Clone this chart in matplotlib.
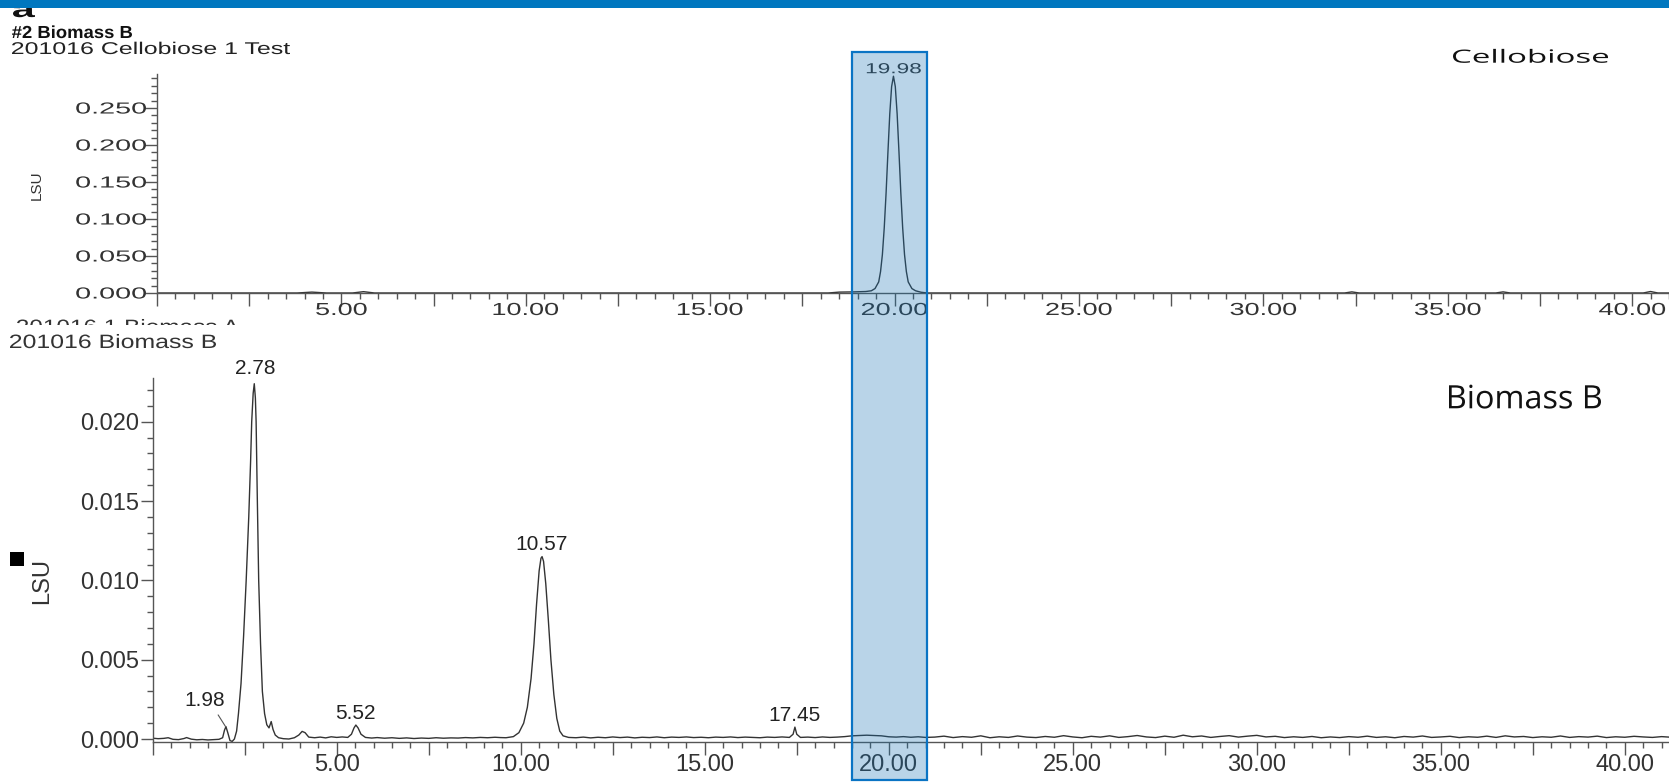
import numpy as np
import matplotlib
matplotlib.use("Agg")
import matplotlib.pyplot as plt
from matplotlib.ticker import MultipleLocator, FuncFormatter
from matplotlib.textpath import TextPath
from matplotlib.patches import PathPatch, Rectangle
from matplotlib.font_manager import FontProperties
from matplotlib.transforms import Affine2D, IdentityTransform, blended_transform_factory

W, H = 1669, 782

# Cellobiose standard trace (LSU)
top_time = [0.0, 3.8, 4.2, 4.6, 5.3, 5.6, 5.9, 18.2, 18.5, 18.9, 19.22, 19.37,
            19.47, 19.57, 19.62, 19.67, 19.72, 19.77, 19.82, 19.87, 19.92, 19.97,
            20.02, 20.07, 20.12, 20.17, 20.22, 20.27, 20.32, 20.37, 20.47, 20.57,
            20.72, 20.9, 32.2, 32.4, 32.6, 36.3, 36.5, 36.7, 40.3, 40.5, 40.7, 41.0]
top_signal = [0.0, 0.0, 0.0012, 0.0, 0.0, 0.0018, 0.0, 0.0, 0.0012, 0.0015, 0.002, 0.003,
              0.006, 0.015, 0.029, 0.052, 0.088, 0.135, 0.19, 0.242, 0.279, 0.293,
              0.279, 0.242, 0.19, 0.135, 0.088, 0.052, 0.029, 0.015, 0.006, 0.003,
              0.001, 0.0, 0.0, 0.0015, 0.0, 0.0, 0.0015, 0.0, 0.0, 0.002, 0.0, 0.0]
top_peaks = [19.98]

# Biomass B trace (in 0.001 LSU)
bot_time = [
    0.00, 0.15, 0.30, 0.42, 0.55, 0.70, 0.85, 0.92, 1.05, 1.20, 1.35, 1.50, 1.65, 1.80, 1.90,
    1.95, 1.99, 2.04, 2.10, 2.16,
    2.22, 2.28, 2.33, 2.40, 2.47, 2.54, 2.61, 2.66, 2.69, 2.73, 2.76, 2.79, 2.81, 2.84,
    2.88, 2.93, 2.98, 3.04, 3.10, 3.16, 3.22, 3.27, 3.33, 3.42,
    3.55, 3.70, 3.85, 3.97, 4.06, 4.14, 4.24, 4.40, 4.55, 4.70, 4.85, 5.00, 5.15, 5.30,
    5.40, 5.47, 5.52, 5.58, 5.66, 5.78, 5.95, 6.10, 6.30, 6.50, 6.70, 6.90, 7.10, 7.30,
    7.50, 7.70, 7.90, 8.10, 8.30, 8.50, 8.70, 8.90, 9.10, 9.30, 9.45,
    9.60, 9.80, 9.95, 10.08, 10.18, 10.28, 10.36, 10.43, 10.50, 10.55, 10.58, 10.62,
    10.68, 10.75, 10.82, 10.90, 10.98, 11.06, 11.15, 11.30,
    11.50, 11.70, 11.90, 12.10, 12.30, 12.50, 12.70, 12.90, 13.10, 13.30, 13.50, 13.70,
    13.90, 14.10, 14.30, 14.50, 14.70, 14.90, 15.10, 15.30, 15.50, 15.70, 15.90, 16.10,
    16.30, 16.50, 16.70, 16.90, 17.10, 17.30, 17.40, 17.45, 17.50, 17.60, 17.80, 18.00,
    18.20, 18.40, 18.60, 18.80, 19.00, 19.20, 19.40, 19.60, 19.80, 20.00, 20.20, 20.40,
    20.60, 20.80, 21.00, 21.25, 21.50, 21.75, 22.00, 22.25, 22.50, 22.75, 23.00, 23.25,
    23.50, 23.75, 24.00, 24.25, 24.50, 24.75, 25.00, 25.25, 25.50, 25.75, 26.00, 26.25,
    26.50, 26.75, 27.00, 27.25, 27.50, 27.75, 28.00, 28.25, 28.50, 28.75, 29.00, 29.25,
    29.50, 29.75, 30.00, 30.25, 30.50, 30.75, 31.00, 31.25, 31.50, 31.75, 32.00, 32.25,
    32.50, 32.75, 33.00, 33.25, 33.50, 33.75, 34.00, 34.25, 34.50, 34.75, 35.00, 35.25,
    35.50, 35.75, 36.00, 36.25, 36.50, 36.75, 37.00, 37.25, 37.50, 37.75, 38.00, 38.25,
    38.50, 38.75, 39.00, 39.25, 39.50, 39.75, 40.00, 40.25, 40.50, 40.75, 41.00, 41.20]
bot_signal = [
    0.05, 0.02, 0.04, 0.08, -0.02, -0.04, 0.03, 0.09, -0.01, -0.05, -0.03, -0.06, -0.04, -0.02, 0.08,
    0.55, 0.78, 0.40, -0.10, -0.15,
    0.00, 0.50, 1.60, 3.50, 6.50, 10.0, 14.0, 17.5, 20.0, 21.8, 22.4, 21.5, 20.0, 15.5,
    10.0, 6.0, 3.0, 1.6, 0.9, 0.7, 1.1, 0.6, 0.25, 0.08,
    0.02, 0.00, 0.08, 0.25, 0.48, 0.40, 0.12, 0.08, 0.12, 0.07, 0.14, 0.10, 0.13, 0.10,
    0.30, 0.70, 0.88, 0.70, 0.30, 0.10, 0.06, 0.09, 0.05, 0.08, 0.04, 0.07, 0.03, 0.06,
    0.04, 0.08, 0.05, 0.07, 0.06, 0.09, 0.07, 0.10, 0.08, 0.11, 0.09,
    0.08, 0.15, 0.40, 1.0, 2.0, 3.8, 6.0, 8.5, 10.6, 11.4, 11.5, 11.2,
    9.8, 7.5, 5.0, 2.8, 1.3, 0.5, 0.2, 0.10,
    0.08, 0.12, 0.07, 0.11, 0.08, 0.13, 0.09, 0.12, 0.07, 0.11, 0.09, 0.13,
    0.08, 0.12, 0.10, 0.13, 0.09, 0.11, 0.08, 0.12, 0.10, 0.13, 0.09, 0.12,
    0.10, 0.08, 0.12, 0.10, 0.13, 0.10, 0.30, 0.75, 0.30, 0.10, 0.12, 0.09,
    0.13, 0.10, 0.12, 0.15, 0.20, 0.22, 0.24, 0.22, 0.20, 0.14, 0.12, 0.15,
    0.11, 0.14, 0.10, 0.12, 0.18, 0.09, 0.15, 0.11, 0.20, 0.08, 0.14, 0.10,
    0.19, 0.12, 0.09, 0.16, 0.11, 0.21, 0.13, 0.08, 0.17, 0.12, 0.20, 0.10,
    0.15, 0.22, 0.13, 0.09, 0.18, 0.11, 0.24, 0.14, 0.19, 0.10, 0.16, 0.21,
    0.12, 0.18, 0.23, 0.13, 0.17, 0.09, 0.14, 0.10, 0.16, 0.08, 0.13, 0.09,
    0.15, 0.11, 0.18, 0.10, 0.14, 0.08, 0.16, 0.12, 0.19, 0.10, 0.13, 0.17,
    0.09, 0.14, 0.11, 0.18, 0.10, 0.20, 0.13, 0.16, 0.09, 0.14, 0.11, 0.19,
    0.10, 0.15, 0.12, 0.18, 0.09, 0.14, 0.11, 0.17, 0.13, 0.10, 0.15, 0.12]
bot_peaks = [1.98, 2.78, 5.52, 10.57, 17.45]

top_yticks = [0.0, 0.05, 0.10, 0.15, 0.20, 0.25]
top_xticks = [5, 10, 15, 20, 25, 30, 35, 40]

t_top = np.array(top_time)
s_top = np.array(top_signal)
t_bot = np.array(bot_time)
s_bot = np.array(bot_signal) * 1e-3

fig = plt.figure(figsize=(W / 100, H / 100), dpi=100)
fig.patch.set_facecolor("white")


def wide_text(s, x, base, cap, width=None, sx=1.0, ha="left", family="Liberation Sans",
              weight="normal", color="#333333", z=5):
    # text drawn as a path so it can be stretched like the scanned figure
    fp = FontProperties(family=family, weight=weight)
    tp = TextPath((0, 0), s, size=100, prop=fp)
    ref = TextPath((0, 0), "H", size=100, prop=fp).get_extents().height
    ext = tp.get_extents()
    sy = cap / ref
    kx = width / ext.width if width else sy * sx
    w = ext.width * kx
    x0 = x if ha == "left" else (x - w / 2 if ha == "center" else x - w)
    tr = Affine2D().translate(-ext.x0, 0).scale(kx, sy).translate(x0, H - base)
    fig.add_artist(PathPatch(tr.transform_path(tp), facecolor=color, edgecolor="none", lw=0,
                             transform=IdentityTransform(), zorder=z))


def px(ax, x, y):
    d = ax.transData.transform((x, y))
    return d[0], H - d[1]


line_col = "#333333"
spine_col = "#555555"

# ---- top panel (cellobiose) ----
ax1 = fig.add_axes([157 / W, (H - 293) / H, (W - 157) / W, 219 / H])
ax1.plot(t_top, s_top, color=line_col, lw=1.0)
ax1.set_xlim(0, 41.0)
ax1.set_ylim(0, 0.296)
ax1.yaxis.set_major_locator(MultipleLocator(0.05))
ax1.yaxis.set_minor_locator(MultipleLocator(0.01))
ax1.xaxis.set_major_locator(MultipleLocator(2.5))
ax1.xaxis.set_minor_locator(MultipleLocator(0.5))
ax1.tick_params(which="major", length=9, width=1, color=spine_col, labelleft=False, labelbottom=False)
ax1.tick_params(which="minor", length=4, width=1, color=spine_col)

# ---- bottom panel (biomass B) ----
ax2 = fig.add_axes([152.7 / W, (H - 741.7) / H, (W - 152.7) / W, 363.7 / H])
ax2.plot(t_bot, s_bot, color=line_col, lw=1.0)
ax2.set_xlim(0, 41.2)
ax2.set_ylim(-0.00017, 0.02276)
ax2.yaxis.set_major_locator(MultipleLocator(0.005))
ax2.yaxis.set_minor_locator(MultipleLocator(0.001))
ax2.xaxis.set_major_locator(MultipleLocator(2.5))
ax2.xaxis.set_minor_locator(MultipleLocator(0.5))
ax2.yaxis.set_major_formatter(FuncFormatter(lambda v, p: f"{v:.3f}" if v >= -1e-9 else ""))
ax2.xaxis.set_major_formatter(FuncFormatter(lambda v, p: f"{v:.2f}" if v > 0 and abs(v % 5) < 1e-6 else ""))
ax2.tick_params(which="major", length=9, width=1, color=spine_col, labelsize=17,
                labelcolor="#333333", pad=1)
ax2.tick_params(which="minor", length=4, width=1, color=spine_col)
ax2.tick_params(axis="x", pad=0)
for lbl in ax2.get_xticklabels() + ax2.get_yticklabels():
    lbl.set_family("Liberation Sans")

for ax in (ax1, ax2):
    ax.set_facecolor("none")
    ax.spines["top"].set_visible(False)
    ax.spines["right"].set_visible(False)
    for side in ("left", "bottom"):
        ax.spines[side].set_color(spine_col)
        ax.spines[side].set_linewidth(1.0)

# peak labels, bottom panel
for rt in bot_peaks:
    m = (t_bot > rt - 0.08) & (t_bot < rt + 0.08)
    ytop = s_bot[m].max()
    if rt < 2.5:
        ax2.annotate(f"{rt:.2f}", (rt, ytop), xytext=(-15, 15), textcoords="offset points",
                     ha="center", va="baseline", fontsize=15, color="#222222",
                     family="Liberation Sans",
                     arrowprops=dict(arrowstyle="-", color="#555555", lw=0.8,
                                     shrinkA=2, shrinkB=0,
                                     relpos=(0.75, 0.0)))
    else:
        off = 7 if rt < 3 else 4.5
        ax2.annotate(f"{rt:.2f}", (rt, ytop), xytext=(0, off), textcoords="offset points",
                     ha="center", va="baseline", fontsize=15, color="#222222",
                     family="Liberation Sans")

# top panel tick labels (stretched, as in the scan)
for v in top_yticks:
    x, y = px(ax1, 0, v)
    wide_text(f"{v:.3f}", x - 11, y + 5.5, 11, sx=1.8, ha="right")
for v in top_xticks:
    x, y = px(ax1, v, 0)
    wide_text(f"{v:.2f}", x, y + 22, 12, sx=1.55, ha="center")
for rt in top_peaks:
    m = (t_top > rt - 0.1) & (t_top < rt + 0.1)
    x, y = px(ax1, rt, s_top[m].max())
    wide_text(f"{rt:.2f}", x, y - 3, 10, width=54, ha="center")

# headers
wide_text("a", 13, 17, 16, width=22, weight="bold", color="#111111")
wide_text("#2 Biomass B", 12, 38, 12, width=120, weight="bold", color="#111111")
wide_text("201016 Cellobiose 1 Test", 12, 54, 11.7, width=278, color="#222222")
wide_text("201016 1 Biomass A", 17, 333, 13.3, width=222, color="#333333")
fig.add_artist(Rectangle((0, (H - 336) / H), 320 / W, 11 / H, transform=fig.transFigure,
                         facecolor="white", edgecolor="none", zorder=6))
wide_text("201016 Biomass B", 10, 348, 13.3, width=206, color="#333333", z=7)
wide_text("Cellobiose", 1453, 62.7, 13, width=155, family="Open Sans", color="#111111")
wide_text("Biomass B", 1449, 408.3, 23, width=152, family="Open Sans", color="#111111")

fig.text(37 / W, 1 - 185 / H, "LSU", rotation=90, ha="center", va="center", fontsize=11,
         color="#333333", family="Liberation Sans")
fig.text(42 / W, 1 - 581 / H, "LSU", rotation=90, ha="center", va="center", fontsize=17,
         color="#333333", family="Liberation Sans")
fig.add_artist(Rectangle((10 / W, 1 - 566 / H), 14 / W, 14 / H, transform=fig.transFigure,
                         facecolor="black", edgecolor="none", zorder=6))

# highlight box around the cellobiose retention window
tr_box = blended_transform_factory(ax1.transData, fig.transFigure)
fig.add_artist(Rectangle((18.85, 2 / H), 20.88 - 18.85, (780 - 52) / H, transform=tr_box,
                         facecolor=(0.09, 0.45, 0.71, 0.3), edgecolor="#0a74c4", lw=1.6,
                         zorder=8))

# top banner
fig.add_artist(Rectangle((0, 1 - 8 / H), 1, 8 / H, transform=fig.transFigure,
                         facecolor="#0077bf", edgecolor="none", zorder=10))

fig.savefig("out.png", dpi=100)
